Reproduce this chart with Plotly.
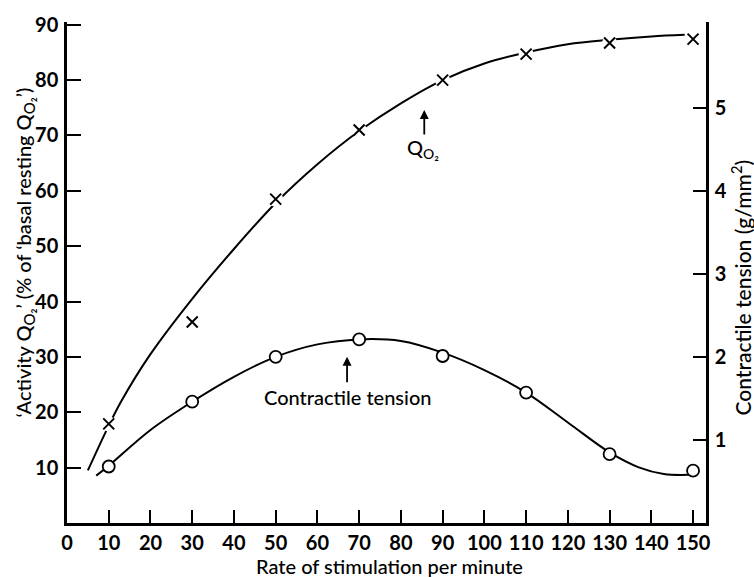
import plotly.graph_objects as go

# Measured points
rate = [10, 30, 50, 70, 90, 110, 130, 150]
qo2 = [17.9, 36.3, 58.5, 71.0, 80.0, 84.7, 86.7, 87.4]
tension = [0.68, 1.46, 2.00, 2.21, 2.01, 1.57, 0.83, 0.63]

# Fitted (hand-drawn) curves
q_curve_x = [5, 10, 13, 20, 30, 40, 50, 60, 70, 80, 90, 100, 110, 120, 130, 140, 148]
q_curve_y = [9.5, 17.6, 22.0, 30.5, 40.5, 49.5, 57.8, 64.8, 70.8, 75.8, 80.0, 83.0, 85.0, 86.5, 87.3, 87.9, 88.2]
t_curve_x = [7, 10, 20, 30, 40, 50, 60, 70, 80, 90, 100, 110, 120, 130, 137, 143, 149]
t_curve_y = [0.57, 0.69, 1.12, 1.46, 1.76, 2.00, 2.15, 2.21, 2.19, 2.05, 1.84, 1.57, 1.21, 0.85, 0.67, 0.59, 0.58]

x_ticks = list(range(0, 151, 10))
left_ticks = list(range(10, 91, 10))
right_ticks = [1, 2, 3, 4, 5]

FONT = "Lato"
TICKFONT = dict(family=FONT, size=20, weight="bold")
fig = go.Figure()

fig.add_trace(go.Scatter(x=q_curve_x, y=q_curve_y, mode="lines", line=dict(color="black", width=2, shape="spline"),
                         yaxis="y", showlegend=False, hoverinfo="skip"))
fig.add_trace(go.Scatter(x=t_curve_x, y=t_curve_y, mode="lines", line=dict(color="black", width=2, shape="spline"),
                         yaxis="y2", showlegend=False, hoverinfo="skip"))
# white halo under crosses to break the line
fig.add_trace(go.Scatter(x=rate, y=qo2, mode="markers", marker=dict(symbol="circle", size=15, color="white", line=dict(width=0)),
                         yaxis="y", showlegend=False, hoverinfo="skip"))
fig.add_trace(go.Scatter(x=rate, y=qo2, mode="markers",
                         marker=dict(symbol="x-thin", size=11, color="black", line=dict(width=2, color="black")),
                         yaxis="y", showlegend=False, name="QO2"))
fig.add_trace(go.Scatter(x=rate, y=tension, mode="markers",
                         marker=dict(symbol="circle", size=12, color="white", line=dict(width=1.8, color="black")),
                         yaxis="y2", showlegend=False, name="Contractile tension"))

fig.update_layout(
    width=754, height=577,
    margin=dict(l=67, r=48, t=18, b=54),
    paper_bgcolor="white", plot_bgcolor="white",
    font=dict(family=FONT, color="black"),
    xaxis=dict(range=[0, 153.1], tickvals=x_ticks, ticktext=[str(v) for v in x_ticks],
               showline=True, linecolor="black", linewidth=2.5, ticks="inside", ticklen=13, tickwidth=2,
               tickcolor="black", showgrid=False, zeroline=False, ticklabelstandoff=0,
               tickfont=TICKFONT),
    yaxis=dict(range=[0, 90.5], tickvals=left_ticks, ticktext=[str(v) for v in left_ticks],
               showline=True, linecolor="black", linewidth=2.5, ticks="inside", ticklen=14, tickwidth=2,
               tickcolor="black", showgrid=False, zeroline=False, ticklabelstandoff=2,
               tickfont=TICKFONT),
    yaxis2=dict(range=[0, 6.03], tickvals=right_ticks, ticktext=[str(v) for v in right_ticks],
                overlaying="y", side="right", anchor="x",
                showline=True, linecolor="black", linewidth=2.5, ticks="inside", ticklen=13, tickwidth=2,
                tickcolor="black", showgrid=False, zeroline=False, ticklabelstandoff=2,
                tickfont=TICKFONT),
)

QO2 = 'Q<sub><span style="font-size:15px">O₂</span></sub>'
ann = []
# axis titles
ann.append(dict(text="Rate of stimulation per minute", xref="paper", yref="paper", x=0.504, y=0, yshift=-43,
                borderpad=0, showarrow=False, font=dict(size=20, family=FONT, weight=500),
                xanchor="center", yanchor="middle"))
ann.append(dict(text="‘Activity " + QO2 + "’ (% of ‘basal resting " + QO2 + "’)", xref="paper", yref="paper",
                x=0, xshift=-43, y=0.54, textangle=-90, showarrow=False,
                font=dict(size=20, family=FONT, weight=500), xanchor="center", yanchor="middle"))
ann.append(dict(text="Contractile tension (g/mm<sup>2</sup>)", xref="paper", yref="paper",
                x=1, xshift=35, y=0.47, textangle=-90, showarrow=False,
                font=dict(size=21, family=FONT, weight=500), xanchor="center", yanchor="middle"))
# arrows
ann.append(dict(text="", x=85.6, y=74.6, xref="x", yref="y", showarrow=True, ax=0, ay=26,
                arrowhead=2, arrowsize=1, arrowwidth=1.8, arrowcolor="black"))
ann.append(dict(text="Q<sub>O₂</sub>", x=85.4, y=67.6, xref="x", yref="y", showarrow=False,
                font=dict(size=20, family=FONT, weight=500), xanchor="center", yanchor="middle"))
ann.append(dict(text="", x=67.1, y=2.0, xref="x", yref="y2", showarrow=True, ax=0, ay=27,
                arrowhead=2, arrowsize=1, arrowwidth=1.8, arrowcolor="black"))
ann.append(dict(text="Contractile tension", x=67.3, y=1.52, xref="x", yref="y2", showarrow=False,
                font=dict(size=20, family=FONT, weight=500), xanchor="center", yanchor="middle"))
fig.update_layout(annotations=ann)

fig.write_html("out.html", config={"displayModeBar": False},
               post_script="document.body.style.margin='0';document.body.style.overflow='hidden';")
